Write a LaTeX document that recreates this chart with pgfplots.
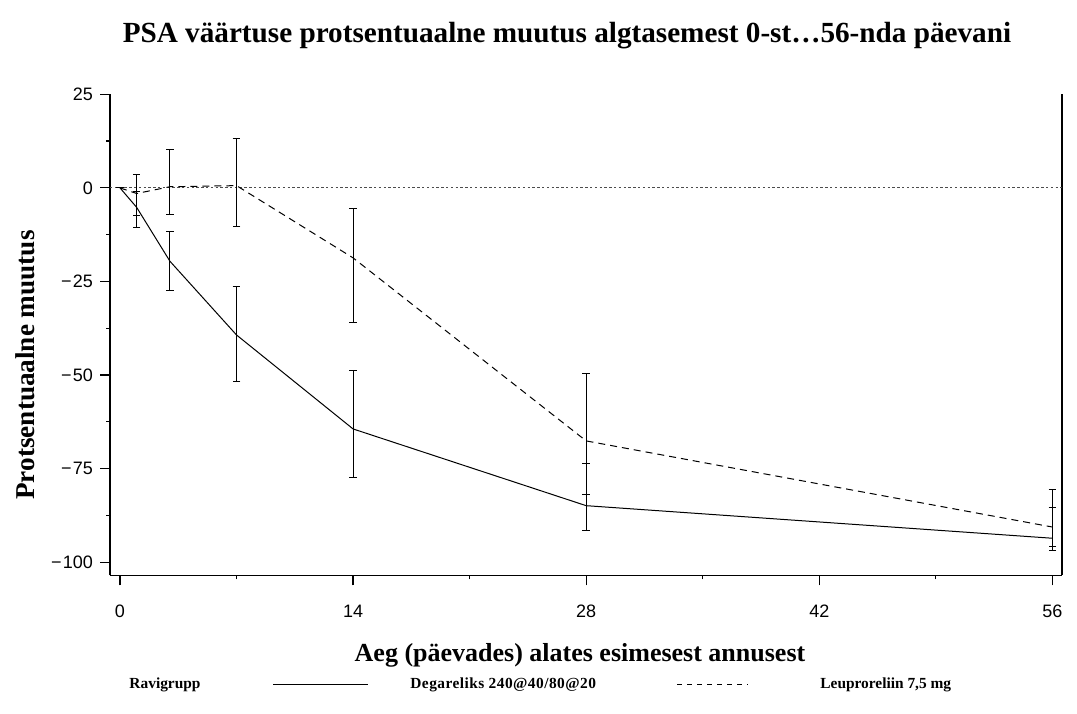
\documentclass[border=0pt]{standalone}
\usepackage{fontspec}
\setmainfont{Liberation Serif}
\setsansfont{Liberation Sans}
\usepackage{pgfplots}
\pgfplotsset{compat=1.18}

% day, mean, error up, error down
\pgfplotstableread{
x y ep em
0 0 0 0
1 -5.2 4.1 2.1
3 -19.6 7.9 7.7
7 -39.3 12.9 12.5
14 -64.4 15.5 13.1
28 -84.9 11.2 6.7
56 -93.6 8.1 2.1
}\degarelix
\pgfplotstableread{
x y ep em
0 0 0 0
1 -1.5 5.0 9.1
3 0.3 10.0 7.5
7 0.6 12.5 11.0
14 -18.7 13.2 17.3
28 -67.6 18.1 14.3
56 -90.6 9.9 6.4
}\leuprolide

\newcommand{\mn}{−\kern0.6pt}

\begin{document}
\begin{tikzpicture}
\useasboundingbox (0pt,0pt) rectangle (538.5pt,356.5pt);
\begin{axis}[
  at={(55pt,68.85pt)}, anchor=south west,
  scale only axis,
  width=476pt, height=240.5pt,
  xmin=-0.6, xmax=56.58,
  ymin=-103.5, ymax=25,
  axis x line=bottom, axis y line=left,
  axis line style={-, line width=0.75pt},
  tick align=outside,
  major tick length=5pt, minor tick length=2pt,
  tick style={line width=0.6pt, black},
  xtick={0,14,28,42,56}, minor x tick num=1,
  ytick={-100,-75,-50,-25,0,25}, minor y tick num=1,
  yticklabels={\mn100,\mn75,\mn50,\mn25,0,25},
  xticklabel style={yshift=-6.3pt},
  /pgf/number format/assume math mode=true,
  tick label style={font=\sffamily\fontsize{9}{10}\selectfont},
  clip=false,
]
\draw[line width=0.75pt] (rel axis cs:1,0) -- (rel axis cs:1,1);
\addplot[black!70, line width=0.6pt, dash pattern=on 1.2pt off 1.2pt] coordinates {(-0.6,0) (56.58,0)};
\addplot[black, line width=0.5pt, mark=none,
  error bars/.cd, y dir=both, y explicit,
  error bar style={line width=0.5pt},
  error mark options={rotate=90, mark size=1.9pt, line width=0.5pt}]
  table[x=x, y=y, y error plus=ep, y error minus=em] {\degarelix};
\addplot[black, line width=0.5pt, dash pattern=on 3.5pt off 2.5pt, mark=none,
  error bars/.cd, y dir=both, y explicit,
  error bar style={line width=0.5pt, solid},
  error mark options={rotate=90, mark size=1.9pt, line width=0.5pt, solid}]
  table[x=x, y=y, y error plus=ep, y error minus=em] {\leuprolide};
\end{axis}
\node[font=\bfseries\fontsize{14.6}{16}\selectfont] at (283.5pt,338.5pt) {PSA väärtuse protsentuaalne muutus algtasemest 0-st…56-nda päevani};
\node[font=\bfseries\fontsize{13}{15}\selectfont] at (290pt,29pt) {Aeg (päevades) alates esimesest annusest};
\node[font=\bfseries\fontsize{13.6}{15}\selectfont, rotate=90] at (12.5pt,174pt) {Protsentuaalne muutus};
\node[font=\bfseries\fontsize{7.7}{9}\selectfont] at (82.5pt,14pt) {Ravigrupp};
\draw[line width=0.5pt] (136.5pt,14.5pt) -- (184pt,14.5pt);
\node[font=\bfseries\fontsize{7.7}{9}\selectfont, anchor=west, inner sep=0pt] at (205pt,14pt) {\addfontfeature{LetterSpace=3}Degareliks 240@40/80@20};
\draw[line width=0.5pt, dash pattern=on 2.5pt off 2.5pt] (338.5pt,14.5pt) -- (374pt,14.5pt);
\node[font=\bfseries\fontsize{7.7}{9}\selectfont, anchor=west, inner sep=0pt] at (410pt,14pt) {Leuproreliin 7,5 mg};
\end{tikzpicture}
\end{document}
